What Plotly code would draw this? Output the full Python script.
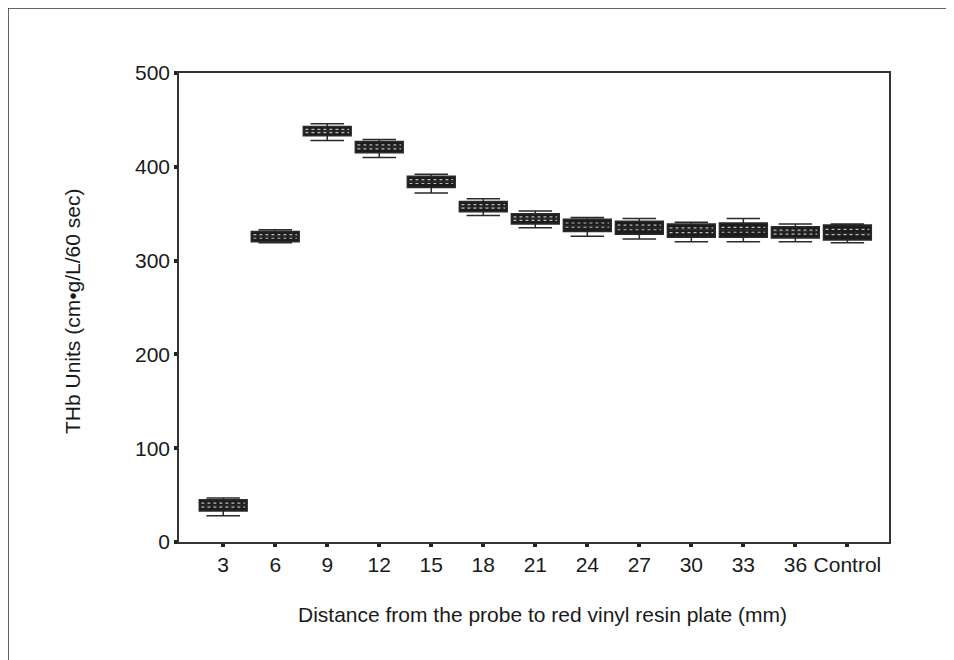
import plotly.graph_objects as go

categories = ["3", "6", "9", "12", "15", "18", "21", "24", "27", "30", "33", "36", "Control"]
upper_whisker = [47, 333, 446, 429, 392, 366, 353, 346, 345, 341, 345, 339, 339]
q3_values = [45, 331, 443, 427, 390, 363, 350, 344, 342, 339, 340, 336, 338]
median_values = [39, 326, 438, 421, 384, 357, 345, 337, 335, 333, 333, 331, 329]
q1_values = [33, 320, 433, 415, 378, 352, 339, 331, 328, 325, 325, 324, 322]
lower_whisker = [28, 319, 428, 410, 372, 348, 335, 326, 323, 320, 320, 320, 319]
y_ticks = [0, 100, 200, 300, 400, 500]

xpos = list(range(len(categories)))
font = dict(family="Liberation Sans, Arial, sans-serif", size=21, color="#1a1a1a")

fig = go.Figure()
fig.add_trace(go.Box(
    x=xpos,
    q1=q1_values, median=median_values, q3=q3_values,
    lowerfence=lower_whisker, upperfence=upper_whisker,
    width=0.92, whiskerwidth=0.7,
    fillcolor="#1c1c1c",
    line=dict(color="#2a2a2a", width=1.5),
    boxpoints=False, showlegend=False, hoverinfo="skip",
))

# dotted texture rows inside boxes
for frac in (0.35, 0.7):
    xs, ys = [], []
    for i in xpos:
        yv = q1_values[i] + (q3_values[i] - q1_values[i]) * frac
        xs += [i - 0.42, i + 0.42, None]
        ys += [yv, yv, None]
    fig.add_trace(go.Scatter(x=xs, y=ys, mode="lines",
                             line=dict(color="rgba(255,255,255,0.7)", width=1.2, dash="dot"),
                             showlegend=False, hoverinfo="skip"))

PW, PH = 710, 469
fig.update_layout(
    width=954, height=660,
    margin=dict(l=171, r=73, t=65, b=126),
    paper_bgcolor="white", plot_bgcolor="white",
    font=font,
    showlegend=False,
    xaxis=dict(
        range=[-0.85, 12.8], tickmode="array", tickvals=xpos, ticktext=categories,
        showgrid=False, zeroline=False,
        showline=True, linecolor="#333333", linewidth=1.5, mirror=True,
        ticks="outside", ticklen=3, tickwidth=4, tickcolor="#222222",
        tickfont=font,
    ),
    yaxis=dict(
        range=[0, 500], tickmode="array", tickvals=y_ticks,
        showgrid=False, zeroline=False,
        showline=True, linecolor="#333333", linewidth=1.5, mirror=True,
        ticks="outside", ticklen=3, tickwidth=4, tickcolor="#222222",
        tickfont=font,
    ),
    annotations=[
        dict(text="Distance from the probe to red vinyl resin plate (mm)", xref="paper", yref="paper",
             x=(542 - 179) / PW, y=-(614 - 542) / PH, xanchor="center", yanchor="middle",
             showarrow=False, font=font),
        dict(text="THb Units (cm•g/L/60 sec)", xref="paper", yref="paper", textangle=-90,
             x=(72 - 179) / PW, y=(542 - 312) / PH, xanchor="center", yanchor="middle",
             showarrow=False, font=font),
    ],
    shapes=[dict(type="rect", xref="paper", yref="paper",
                 x0=-171 / PW, x1=1.5, y0=-1.0, y1=1 + 65 / PH,
                 line=dict(color="#333333", width=1.5), fillcolor="rgba(0,0,0,0)", layer="below")],
)

fig.write_html("out.html")
